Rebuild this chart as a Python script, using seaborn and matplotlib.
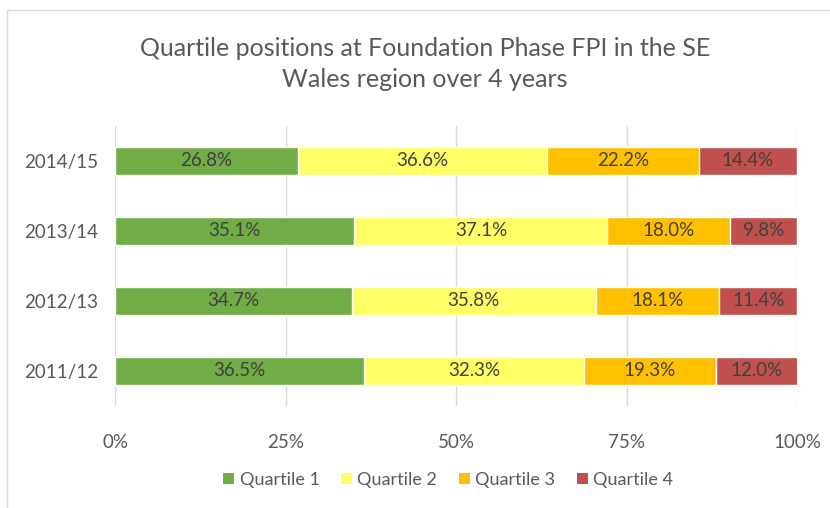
import pandas as pd
import seaborn as sns
import matplotlib.pyplot as plt
from matplotlib.patches import Patch, Rectangle

# values (percent of schools per quartile)
years = ['2014/15', '2013/14', '2012/13', '2011/12']
quartile_1 = [26.8, 35.1, 34.7, 36.5]
quartile_2 = [36.6, 37.1, 35.8, 32.3]
quartile_3 = [22.2, 18.0, 18.1, 19.3]
quartile_4 = [14.4, 9.8, 11.4, 12.0]
series_names = ['Quartile 1', 'Quartile 2', 'Quartile 3', 'Quartile 4']
tick_labels = ['0%', '25%', '50%', '75%', '100%']

colors = ['#70AD47', '#FFFF66', '#FFC000', '#C0504D']
text_col = '#404040'

df = pd.DataFrame({'year': years, 'Quartile 1': quartile_1, 'Quartile 2': quartile_2,
                   'Quartile 3': quartile_3, 'Quartile 4': quartile_4})
cum = df[series_names].cumsum(axis=1)

sns.set_theme(style='white')
plt.rcParams['font.family'] = ['Lato', 'DejaVu Sans']

fig = plt.figure(figsize=(8.3, 5.08), dpi=100)
ax = fig.add_axes([115 / 830, 1 - 406 / 508, 682 / 830, 280 / 508])

# stacked bars: draw the cumulative totals from the back to the front
for name, col in reversed(list(zip(series_names, colors))):
    sns.barplot(x=cum[name], y=df['year'], color=col, width=0.4,
                saturation=1, orient='h', ax=ax, zorder=2)

# segment labels
for i in range(len(years)):
    left = 0
    for name in series_names:
        v = df[name][i]
        ax.text(left + v / 2, i, f'{v:.1f}%', ha='center', va='center',
                fontsize=13.5, color=text_col, zorder=3)
        left += v

ax.set_xlim(0, 100)
ax.set_ylim(3.5, -0.5)
ax.set_xticks([0, 25, 50, 75, 100])
ax.set_xticklabels(tick_labels)
ax.xaxis.grid(True, color='#D9D9D9', linewidth=1, zorder=0)
ax.set_axisbelow(True)
for s in ax.spines.values():
    s.set_visible(False)
ax.set_xlabel('')
ax.set_ylabel('')
ax.tick_params(axis='x', labelsize=13.5, labelcolor='#595959', pad=20, length=0)
ax.tick_params(axis='y', labelsize=13.5, labelcolor='#595959', pad=12, length=0)

fig.text(0.512, 1 - 48 / 508, 'Quartile positions at Foundation Phase FPI in the SE',
         ha='center', va='center', fontsize=18, color='#595959')
fig.text(0.512, 1 - 80 / 508, 'Wales region over 4 years',
         ha='center', va='center', fontsize=18, color='#595959')

handles = [Patch(facecolor=c, edgecolor='none') for c in colors]
fig.legend(handles, series_names, loc='center', bbox_to_anchor=(0.54, 1 - 480 / 508),
           ncol=4, frameon=False, fontsize=13, handlelength=0.6, handleheight=0.6,
           handletextpad=0.3, columnspacing=1.2, labelcolor='#595959')

# light chart border
fig.patches.append(Rectangle((7 / 830, -0.05), 1.1, 1 - 10 / 508 + 0.05,
                             transform=fig.transFigure, fill=False,
                             edgecolor='#D9D9D9', linewidth=1))

fig.savefig('out.png', dpi=100)
